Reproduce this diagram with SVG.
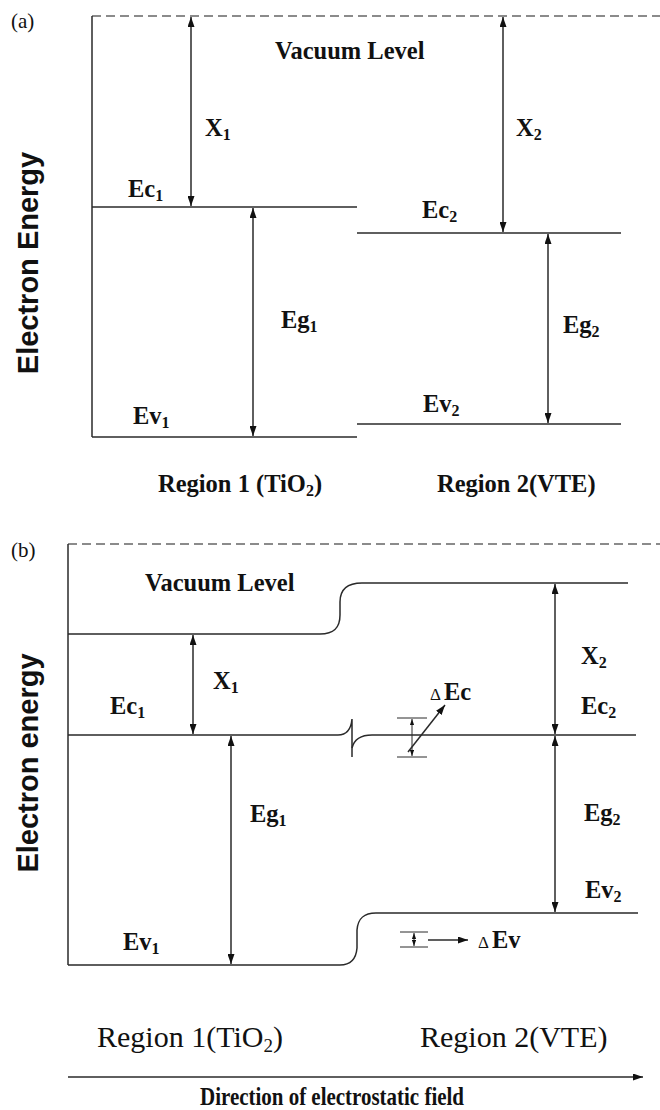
<svg xmlns="http://www.w3.org/2000/svg" width="660" height="1110" viewBox="0 0 660 1110">
<style>
.ln{stroke:#2a2a2a;stroke-width:1.5;fill:none}
.dash{stroke:#666;stroke-width:1.5;stroke-dasharray:9 5;fill:none}
.arr{stroke:#2a2a2a;stroke-width:1.5;fill:none;marker-start:url(#ah);marker-end:url(#ah)}
.thin{stroke:#2a2a2a;stroke-width:1;fill:none}
.lb{font-family:"Liberation Serif",serif;font-weight:bold;font-size:24.5px;fill:#111}
.sub{font-size:16px}
.rg{font-family:"Liberation Serif",serif;font-size:30px;fill:#111}
.pn{font-family:"Liberation Serif",serif;font-size:21px;fill:#111}
.ax{font-family:"Liberation Sans",sans-serif;font-weight:bold;font-size:29px;fill:#111;text-anchor:middle}
.dl{font-family:"Liberation Serif",serif;font-size:17px;fill:#111}
</style>
<defs>
<marker id="ah" viewBox="0 0 10 7" refX="10" refY="3.5" markerWidth="10" markerHeight="7" markerUnits="userSpaceOnUse" orient="auto-start-reverse"><path d="M0,0 L10,3.5 L0,7 z" fill="#111"/></marker>
<marker id="sm" viewBox="0 0 10 7" refX="10" refY="3.5" markerWidth="6" markerHeight="4.5" markerUnits="userSpaceOnUse" orient="auto-start-reverse"><path d="M0,0 L10,3.5 L0,7 z" fill="#111"/></marker>
</defs>
<rect width="660" height="1110" fill="#fff"/>

<!-- Panel (a) -->
<g id="panel-a-label"><text class="pn" x="11" y="28">(a)</text></g>
<g id="axis-a"><text class="ax" transform="translate(38,263) rotate(-90)">Electron Energy</text></g>
<g id="vacuum-a">
<path class="dash" d="M92 16 H660"/>
<text class="lb" x="275" y="59">Vacuum Level</text>
</g>
<g id="frame-a"><path class="ln" d="M92 16 V437"/></g>
<g id="ec1-a"><path class="ln" d="M92 207 H357"/><text class="lb" x="128" y="197">Ec<tspan class="sub" dy="4">1</tspan></text></g>
<g id="ev1-a"><path class="ln" d="M92 437 H357"/><text class="lb" x="133" y="424">Ev<tspan class="sub" dy="4">1</tspan></text></g>
<g id="ec2-a"><path class="ln" d="M357 233 H621"/><text class="lb" x="422" y="218">Ec<tspan class="sub" dy="4">2</tspan></text></g>
<g id="ev2-a"><path class="ln" d="M357 424 H621"/><text class="lb" x="423" y="412">Ev<tspan class="sub" dy="4">2</tspan></text></g>
<g id="x1-a-label"><text class="lb" x="205" y="136">X<tspan class="sub" dy="4">1</tspan></text></g>
<g id="eg1-a-label"><text class="lb" x="281" y="328">Eg<tspan class="sub" dy="4">1</tspan></text></g>
<g id="x2-a-label"><text class="lb" x="516" y="136">X<tspan class="sub" dy="4">2</tspan></text></g>
<g id="eg2-a-label"><text class="lb" x="563" y="333">Eg<tspan class="sub" dy="4">2</tspan></text></g>
<g id="region1-a"><text class="lb" x="158" y="492">Region 1 (TiO<tspan class="sub" dy="4">2</tspan><tspan dy="-4">)</tspan></text></g>
<g id="region2-a"><text class="lb" x="437" y="492">Region 2(VTE)</text></g>

<!-- Panel (b) -->
<g id="panel-b-label"><text class="pn" x="11" y="557">(b)</text></g>
<g id="axis-b"><text class="ax" transform="translate(38,763) rotate(-90)">Electron energy</text></g>
<g id="dash-b"><path class="dash" d="M68 544 H660"/></g>
<g id="frame-b"><path class="ln" d="M68 544 V965"/></g>
<g id="vacuum-b">
<path class="ln" d="M68 634 H320 C334 634 340 628 340 615 V602 C340 589 348 583 362 583 H628"/>
<text class="lb" x="145" y="591">Vacuum Level</text>
</g>
<g id="ec-b">
<path class="ln" d="M68 735 H338 C346 735 351 730 352 719 V757"/>
<path class="ln" d="M352 748 C354 740 360 735 372 735 H636"/>
<text class="lb" x="110" y="714">Ec<tspan class="sub" dy="4">1</tspan></text>
<text class="lb" x="581" y="714">Ec<tspan class="sub" dy="4">2</tspan></text>
</g>
<g id="ev-b">
<path class="ln" d="M68 965 H340 C350 965 356 960 357 948 V930 C358 918 364 913 376 913 H638"/>
<text class="lb" x="123" y="950">Ev<tspan class="sub" dy="4">1</tspan></text>
<text class="lb" x="585" y="898">Ev<tspan class="sub" dy="4">2</tspan></text>
</g>
<g id="x1-b-label"><text class="lb" x="213" y="689">X<tspan class="sub" dy="4">1</tspan></text></g>
<g id="x2-b-label"><text class="lb" x="581" y="664">X<tspan class="sub" dy="4">2</tspan></text></g>
<g id="eg1-b-label"><text class="lb" x="250" y="822">Eg<tspan class="sub" dy="4">1</tspan></text></g>
<g id="eg2-b-label"><text class="lb" x="584" y="821">Eg<tspan class="sub" dy="4">2</tspan></text></g>
<g id="dEc">
<path class="thin" d="M397 718 H427 M397 757 H427"/>
<text x="430" y="700"><tspan class="dl">Δ</tspan><tspan class="lb" dx="3">Ec</tspan></text>
</g>
<g id="dEv">
<path class="thin" d="M400 932 H428 M400 947 H428"/>
<text x="478" y="948"><tspan class="dl">Δ</tspan><tspan class="lb" dx="3">Ev</tspan></text>
</g>
<g id="region1-b"><text class="rg" x="97" y="1047">Region 1(TiO<tspan font-size="19" dy="5">2</tspan><tspan dy="-5">)</tspan></text></g>
<g id="region2-b"><text class="rg" x="420" y="1047">Region 2(VTE)</text></g>
<g id="direction-label"><text class="lb" x="200" y="1105" font-size="21" textLength="264" lengthAdjust="spacingAndGlyphs">Direction of electrostatic field</text></g>

<!-- Connectors -->
<g id="connectors">
<path class="arr" d="M191 17 V206"/>
<path class="arr" d="M253 208 V436"/>
<path class="arr" d="M503 17 V232"/>
<path class="arr" d="M548 234 V423"/>
<path class="arr" d="M193 635 V734"/>
<path class="arr" d="M555 584 V734"/>
<path class="arr" d="M231 736 V964"/>
<path class="arr" d="M555 736 V912"/>
<path class="thin" d="M412 719 V756" marker-start="url(#sm)" marker-end="url(#sm)"/>
<path class="ln" d="M408 752 L445 705" marker-end="url(#ah)"/>
<path class="thin" d="M414 933 V946" marker-start="url(#sm)" marker-end="url(#sm)"/>
<path class="ln" d="M428 940 H468" marker-end="url(#ah)"/>
<path class="ln" d="M68 1077 H643" marker-end="url(#ah)"/>
</g>
</svg>
